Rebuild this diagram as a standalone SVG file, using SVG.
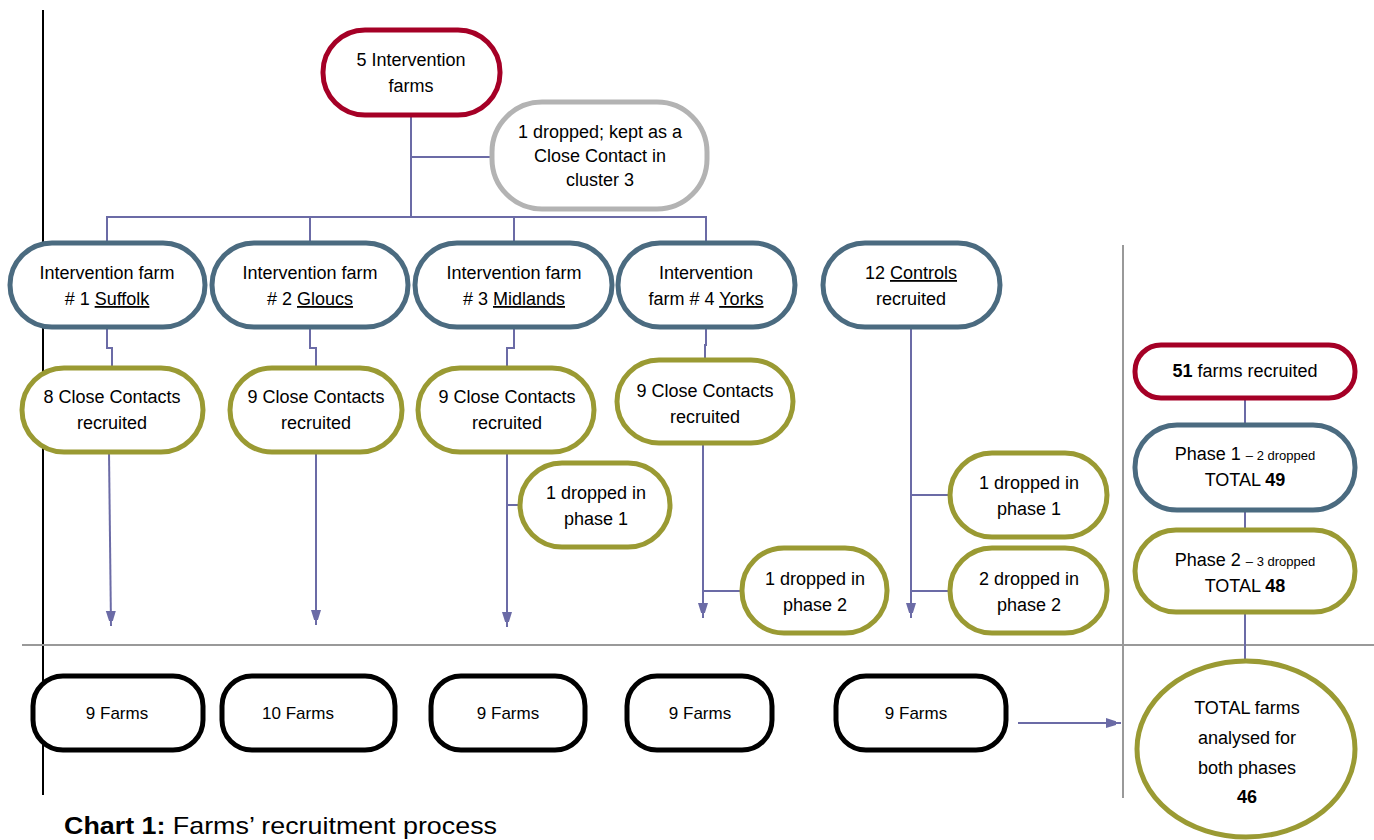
<svg xmlns="http://www.w3.org/2000/svg" width="1374" height="840" viewBox="0 0 1374 840">
<style>
text{font-family:"Liberation Sans",Arial,sans-serif;font-size:18px;fill:#000;text-anchor:middle}
.red{fill:#fff;stroke:#a50026;stroke-width:5}
.gray{fill:#fff;stroke:#b3b3b3;stroke-width:5}
.blue{fill:#fff;stroke:#4b6b80;stroke-width:5}
.olive{fill:#fff;stroke:#9a9a33;stroke-width:5}
.blk{fill:#fff;stroke:#000;stroke-width:5}
.con{fill:none;stroke:#6b6ba6;stroke-width:2}
.rule{stroke:#999;stroke-width:2}
.sm{font-size:13px}
.b{font-weight:bold}
.f{font-size:17px}
</style>
<defs>
<marker id="ahs" markerWidth="10" markerHeight="16" refX="15" refY="5" orient="auto" markerUnits="userSpaceOnUse">
<path d="M0,0 L16,5 L0,10 z" fill="#6b6ba6"/>
</marker>
</defs>

<g id="rules">
<line x1="43" y1="10" x2="43" y2="795" stroke="#000" stroke-width="2"/>
<line x1="1123" y1="245" x2="1123" y2="798" class="rule"/>
<line x1="22" y1="645" x2="1374" y2="645" class="rule"/>
</g>

<g id="connectors">
<path class="con" d="M411,115 V217"/>
<path class="con" d="M411,157 H492"/>
<path class="con" d="M107,245 V217 H706 V245"/>
<path class="con" d="M310,217 V245"/>
<path class="con" d="M514,217 V245"/>
<path class="con" d="M107,327 V348 H112 V368"/>
<path class="con" d="M310,327 V348 H316 V368"/>
<path class="con" d="M514,327 V348 H507 V368"/>
<path class="con" d="M706,327 V345 H705 V360"/>
<path class="con" d="M109,452 L111,626" marker-end="url(#ahs)"/>
<path class="con" d="M316,452 V625" marker-end="url(#ahs)"/>
<path class="con" d="M507,452 V627" marker-end="url(#ahs)"/>
<path class="con" d="M507,505 H520"/>
<path class="con" d="M703,443 V618" marker-end="url(#ahs)"/>
<path class="con" d="M703,591 H742"/>
<path class="con" d="M911,327 V618" marker-end="url(#ahs)"/>
<path class="con" d="M911,495 H950"/>
<path class="con" d="M911,591 H950"/>
<path class="con" d="M1245,397 V425"/>
<path class="con" d="M1245,510 V530"/>
<path class="con" d="M1245,612 V660"/>
<path class="con" d="M1018,723 H1121" stroke-width="2.5" marker-end="url(#ahs)"/>
</g>

<g id="n-top"><rect class="red" x="323" y="30" width="177" height="85" rx="42"/>
<text x="411" y="66">5 Intervention</text><text x="411" y="92">farms</text></g>

<g id="n-dropped"><rect class="gray" x="492" y="102" width="215" height="107" rx="50"/>
<text x="600" y="138" font-size="15">1 dropped; kept as a</text><text x="600" y="162" font-size="15">Close Contact in</text><text x="600" y="186" font-size="15">cluster 3</text></g>

<g id="n-if1"><rect class="blue" x="10" y="243" width="195" height="84" rx="42"/>
<text x="107" y="279">Intervention farm</text><text x="107" y="305"># 1 <tspan text-decoration="underline">Suffolk</tspan></text></g>
<g id="n-if2"><rect class="blue" x="212" y="243" width="196" height="84" rx="42"/>
<text x="310" y="279">Intervention farm</text><text x="310" y="305"># 2 <tspan text-decoration="underline">Gloucs</tspan></text></g>
<g id="n-if3"><rect class="blue" x="415" y="243" width="197" height="84" rx="42"/>
<text x="514" y="279">Intervention farm</text><text x="514" y="305"># 3 <tspan text-decoration="underline">Midlands</tspan></text></g>
<g id="n-if4"><rect class="blue" x="618" y="243" width="177" height="84" rx="42"/>
<text x="706" y="279">Intervention</text><text x="706" y="305">farm # 4 <tspan text-decoration="underline">Yorks</tspan></text></g>
<g id="n-ctrl"><rect class="blue" x="823" y="243" width="177" height="84" rx="42"/>
<text x="911" y="279">12 <tspan text-decoration="underline">Controls</tspan></text><text x="911" y="305">recruited</text></g>

<g id="n-cc1"><rect class="olive" x="22" y="368" width="181" height="84" rx="42"/>
<text x="112" y="403">8 Close Contacts</text><text x="112" y="429">recruited</text></g>
<g id="n-cc2"><rect class="olive" x="230" y="368" width="172" height="84" rx="42"/>
<text x="316" y="403">9 Close Contacts</text><text x="316" y="429">recruited</text></g>
<g id="n-cc3"><rect class="olive" x="418" y="368" width="176" height="84" rx="42"/>
<text x="507" y="403">9 Close Contacts</text><text x="507" y="429">recruited</text></g>
<g id="n-cc4"><rect class="olive" x="617" y="360" width="176" height="83" rx="42"/>
<text x="705" y="397">9 Close Contacts</text><text x="705" y="423">recruited</text></g>

<g id="n-d31"><rect class="olive" x="520" y="463" width="150" height="84" rx="42"/>
<text x="596" y="499">1 dropped in</text><text x="596" y="525">phase 1</text></g>
<g id="n-d42"><rect class="olive" x="742" y="548" width="145" height="85" rx="42"/>
<text x="815" y="585">1 dropped in</text><text x="815" y="611">phase 2</text></g>
<g id="n-dc1"><rect class="olive" x="950" y="453" width="157" height="84" rx="42"/>
<text x="1029" y="489">1 dropped in</text><text x="1029" y="515">phase 1</text></g>
<g id="n-dc2"><rect class="olive" x="950" y="548" width="157" height="85" rx="42"/>
<text x="1029" y="585">2 dropped in</text><text x="1029" y="611">phase 2</text></g>

<g id="n-f1"><rect class="blk" x="33" y="676" width="170" height="74" rx="30"/><text class="f" x="117" y="719">9 Farms</text></g>
<g id="n-f2"><rect class="blk" x="222" y="676" width="173" height="74" rx="30"/><text class="f" x="298" y="719">10 Farms</text></g>
<g id="n-f3"><rect class="blk" x="431" y="676" width="154" height="74" rx="30"/><text class="f" x="508" y="719">9 Farms</text></g>
<g id="n-f4"><rect class="blk" x="627" y="676" width="145" height="74" rx="30"/><text class="f" x="700" y="719">9 Farms</text></g>
<g id="n-f5"><rect class="blk" x="836" y="676" width="170" height="74" rx="30"/><text class="f" x="916" y="719">9 Farms</text></g>

<g id="n-51"><rect class="red" x="1135" y="345" width="220" height="53" rx="26"/>
<text x="1245" y="377"><tspan class="b">51</tspan> farms recruited</text></g>
<g id="n-p1"><rect class="blue" x="1135" y="425" width="220" height="85" rx="42"/>
<text x="1245" y="460">Phase 1 <tspan class="sm">– 2 dropped</tspan></text><text x="1245" y="486">TOTAL <tspan class="b">49</tspan></text></g>
<g id="n-p2"><rect class="olive" x="1135" y="530" width="220" height="82" rx="41"/>
<text x="1245" y="566">Phase 2 <tspan class="sm">– 3 dropped</tspan></text><text x="1245" y="592">TOTAL <tspan class="b">48</tspan></text></g>
<g id="n-total"><ellipse class="olive" cx="1246" cy="749" rx="109" ry="88"/>
<text x="1247" y="714">TOTAL farms</text><text x="1247" y="744">analysed for</text><text x="1247" y="774">both phases</text><text x="1247" y="803" class="b">46</text></g>

<text x="64" y="834" textLength="433" lengthAdjust="spacingAndGlyphs" style="text-anchor:start;font-size:24px"><tspan class="b">Chart 1:</tspan> Farms’ recruitment process</text>
</svg>
